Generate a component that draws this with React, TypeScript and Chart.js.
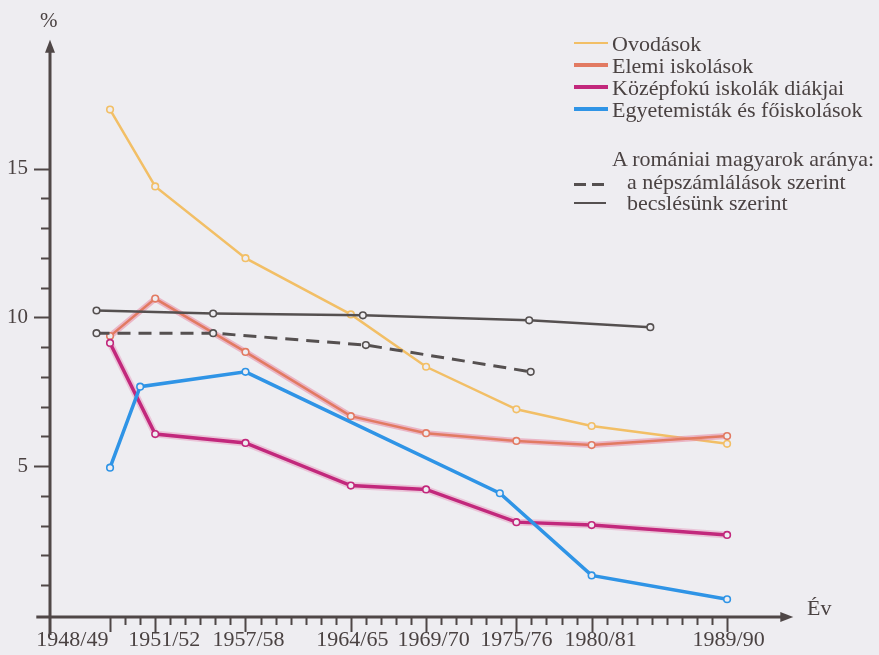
import React, { useEffect, useRef } from "react";
import { Chart, registerables } from "chart.js";

Chart.register(...registerables);

// ---- data ----
const categoryYears = [1948, 1951, 1957, 1964, 1969, 1975, 1980, 1989];
const categoryLabels = ["1948/49", "1951/52", "1957/58", "1964/65", "1969/70", "1975/76", "1980/81", "1989/90"];
// where each label's text is centred on the year axis (the print shifts the first ones apart)
const labelYears = [1945.5, 1951.6, 1957.2, 1964.1, 1969.5, 1975.0, 1980.6, 1989.1];

const ovodasYears = [1948, 1951, 1957, 1964, 1969, 1975, 1980, 1989];
const ovodasValues = [16.98, 14.4, 11.99, 10.1, 8.34, 6.91, 6.35, 5.75];

const elemiYears = [1948, 1951, 1957, 1964, 1969, 1975, 1980, 1989];
const elemiValues = [9.37, 10.63, 8.84, 6.68, 6.11, 5.85, 5.71, 6.01];

const kozepYears = [1948, 1951, 1957, 1964, 1969, 1975, 1980, 1989];
const kozepValues = [9.14, 6.08, 5.78, 4.35, 4.22, 3.12, 3.02, 2.69];

const egyetemYears = [1948, 1950, 1957, 1973.9, 1980, 1989];
const egyetemValues = [4.95, 7.67, 8.17, 4.09, 1.33, 0.53];

const nepszamlalasYears = [1947.1, 1954.85, 1965.0, 1975.95];
const nepszamlalasValues = [9.47, 9.47, 9.07, 8.17];

const becslesYears = [1947.1, 1954.85, 1964.8, 1975.85, 1983.9];
const becslesValues = [10.23, 10.13, 10.07, 9.9, 9.67];

const yTickValues = [5, 10, 15];
const yMinorMax = 15;
const xMinorFrom = 1948;
const xMinorTo = 1989;

const legendSeries = [
  "Ovodások",
  "Elemi iskolások",
  "Középfokú iskolák diákjai",
  "Egyetemisták és főiskolások",
];
const legendTitle = "A romániai magyarok aránya:";
const legendCensus = "a népszámlálások szerint";
const legendEstimate = "becslésünk szerint";

// ---- styles ----
const BG = "#EEEDF1";
const INK = "#4A4242";
const AXIS = "#4F4747";
const C_OVODA = "#F2BF66";
const C_ELEMI = "#E27A62";
const C_ELEMI_HALO = "rgba(232,135,160,0.55)";
const C_KOZEP = "#C2287C";
const C_KOZEP_HALO = "rgba(225,120,170,0.35)";
const C_EGYETEM = "#2F94E6";
const C_ETHNIC = "#555050";
const FONT = "'Liberation Serif', 'Times New Roman', serif";

const pts = (xs: number[], ys: number[]) => xs.map((x, i) => ({ x, y: ys[i] }));

const axesPlugin = {
  id: "handAxes",
  beforeDatasetsDraw(chart: any) {
    const { ctx, scales } = chart;
    const x = scales.x;
    const y = scales.y;
    const x0 = chart.chartArea.left;
    const y0 = y.getPixelForValue(0) + 2;
    ctx.save();
    ctx.strokeStyle = AXIS;
    ctx.fillStyle = AXIS;
    ctx.lineWidth = 3;
    ctx.lineCap = "butt";
    // y axis
    const yTop = y.getPixelForValue(19.33);
    ctx.beginPath();
    ctx.moveTo(x0, y0 + 18);
    ctx.lineTo(x0, yTop + 10);
    ctx.stroke();
    ctx.beginPath();
    ctx.moveTo(x0, yTop);
    ctx.lineTo(x0 - 5, yTop + 13);
    ctx.lineTo(x0 + 5, yTop + 13);
    ctx.closePath();
    ctx.fill();
    // x axis
    const xLeft = x.getPixelForValue(1943.1);
    const xRight = x.getPixelForValue(1993.4);
    ctx.beginPath();
    ctx.moveTo(xLeft, y0);
    ctx.lineTo(xRight - 10, y0);
    ctx.stroke();
    ctx.beginPath();
    ctx.moveTo(xRight, y0);
    ctx.lineTo(xRight - 13, y0 - 5);
    ctx.lineTo(xRight - 13, y0 + 5);
    ctx.closePath();
    ctx.fill();
    // x ticks
    ctx.lineWidth = 2;
    for (let yr = xMinorFrom; yr <= xMinorTo; yr++) {
      const major = categoryYears.includes(yr);
      const px = Math.round(x.getPixelForValue(yr)) + 0.5;
      ctx.beginPath();
      ctx.moveTo(px, y0);
      ctx.lineTo(px, y0 + (major ? 15 : 8));
      ctx.stroke();
    }
    // y ticks
    for (let v = 1; v <= yMinorMax; v++) {
      const major = yTickValues.includes(v);
      const py = Math.round(y.getPixelForValue(v)) + 0.5;
      ctx.beginPath();
      ctx.moveTo(x0, py);
      ctx.lineTo(x0 - (major ? 16 : 9), py);
      ctx.stroke();
    }
    ctx.restore();
  },
};

export default function App() {
  const ref = useRef<HTMLCanvasElement | null>(null);

  useEffect(() => {
    if (!ref.current) return;
    const point = (c: string) => ({
      pointRadius: 3.3,
      pointBackgroundColor: BG,
      pointBorderColor: c,
      pointBorderWidth: 1.6,
    });
    const chart = new Chart(ref.current, {
      type: "line",
      data: {
        datasets: [
          {
            label: "Ovodások",
            data: pts(ovodasYears, ovodasValues),
            borderColor: C_OVODA,
            borderWidth: 2.5,
            order: 7,
            ...point(C_OVODA),
          },
          {
            label: "Elemi iskolások (halo)",
            data: pts(elemiYears, elemiValues),
            borderColor: C_ELEMI_HALO,
            borderWidth: 6,
            pointRadius: 0,
            order: 6,
          },
          {
            label: "Elemi iskolások",
            data: pts(elemiYears, elemiValues),
            borderColor: C_ELEMI,
            borderWidth: 2.5,
            order: 5,
            ...point(C_ELEMI),
          },
          {
            label: "Középfokú iskolák diákjai (halo)",
            data: pts(kozepYears, kozepValues),
            borderColor: C_KOZEP_HALO,
            borderWidth: 7,
            pointRadius: 0,
            order: 4,
          },
          {
            label: "Középfokú iskolák diákjai",
            data: pts(kozepYears, kozepValues),
            borderColor: C_KOZEP,
            borderWidth: 3.5,
            order: 3,
            ...point(C_KOZEP),
          },
          {
            label: "Egyetemisták és főiskolások",
            data: pts(egyetemYears, egyetemValues),
            borderColor: C_EGYETEM,
            borderWidth: 3.5,
            order: 2,
            ...point(C_EGYETEM),
          },
          {
            label: "a népszámlálások szerint",
            data: pts(nepszamlalasYears, nepszamlalasValues),
            borderColor: C_ETHNIC,
            borderWidth: 3,
            borderDash: [13, 8],
            order: 1,
            ...point(C_ETHNIC),
          },
          {
            label: "becslésünk szerint",
            data: pts(becslesYears, becslesValues),
            borderColor: C_ETHNIC,
            borderWidth: 2.5,
            order: 0,
            ...point(C_ETHNIC),
          },
        ],
      },
      options: {
        animation: false,
        responsive: false,
        devicePixelRatio: 1,
        events: [],
        layout: { padding: { left: 0, right: 84.2, top: 28, bottom: 0 } },
        plugins: { legend: { display: false }, tooltip: { enabled: false }, title: { display: false } },
        elements: { line: { tension: 0, fill: false } },
        scales: {
          x: {
            type: "linear",
            min: 1944.01,
            max: 1993.5,
            grid: { display: false, drawTicks: false },
            border: { display: false },
            afterFit: (s: any) => {
              s.height = 40;
            },
            afterBuildTicks: (s: any) => {
              s.ticks = labelYears.map((v) => ({ value: v }));
            },
            ticks: {
              autoSkip: false,
              maxRotation: 0,
              minRotation: 0,
              padding: 12,
              color: INK,
              font: { family: FONT, size: 22 },
              callback: (v: any) => {
                const i = labelYears.indexOf(Number(v));
                return i >= 0 ? categoryLabels[i] : "";
              },
            },
          },
          y: {
            type: "linear",
            min: 0,
            max: 19.5,
            grid: { display: false, drawTicks: false },
            border: { display: false },
            afterFit: (s: any) => {
              s.width = 50;
            },
            afterBuildTicks: (s: any) => {
              s.ticks = yTickValues.map((v) => ({ value: v }));
            },
            ticks: {
              padding: 22,
              color: INK,
              font: { family: FONT, size: 21 },
              callback: (v: any) => String(v),
            },
          },
        },
      },
      plugins: [axesPlugin],
    });
    return () => chart.destroy();
  }, []);

  const text: React.CSSProperties = {
    position: "absolute",
    fontFamily: FONT,
    fontSize: 22,
    lineHeight: "24px",
    color: INK,
    whiteSpace: "nowrap",
  };
  const swatch = (left: number, top: number, width: number, color: string, h: number): React.CSSProperties => ({
    position: "absolute",
    left,
    top: top - h / 2,
    width,
    height: h,
    background: color,
  });
  const rowCenters = [45, 67, 89, 111];
  const rowColors = [C_OVODA, C_ELEMI, C_KOZEP, C_EGYETEM];
  const rowWidths = [2.5, 3.5, 3.5, 3.5];

  return (
    <div style={{ position: "absolute", left: 0, top: 0, width: 879, height: 655, background: BG, overflow: "hidden" }}>
      <canvas ref={ref} width={879} height={655} style={{ position: "absolute", left: 0, top: 0, width: 879, height: 655 }} />
      <div style={{ ...text, left: 40, top: 8, fontSize: 21 }}>%</div>
      <div style={{ ...text, left: 807, top: 596 }}>Év</div>
      {legendSeries.map((name, i) => (
        <React.Fragment key={name}>
          <div style={swatch(574, rowCenters[i] - 2, 34, rowColors[i], rowWidths[i])} />
          <div style={{ ...text, left: 612, top: rowCenters[i] - 13 }}>{name}</div>
        </React.Fragment>
      ))}
      <div style={{ ...text, left: 612, top: 147 }}>{legendTitle}</div>
      <div style={{ position: "absolute", left: 574, top: 182.5, width: 12, height: 3, background: C_ETHNIC }} />
      <div style={{ position: "absolute", left: 592, top: 182.5, width: 12, height: 3, background: C_ETHNIC }} />
      <div style={{ ...text, left: 627, top: 170 }}>{legendCensus}</div>
      <div style={swatch(574, 203, 32, C_ETHNIC, 2.5)} />
      <div style={{ ...text, left: 627, top: 191 }}>{legendEstimate}</div>
    </div>
  );
}
